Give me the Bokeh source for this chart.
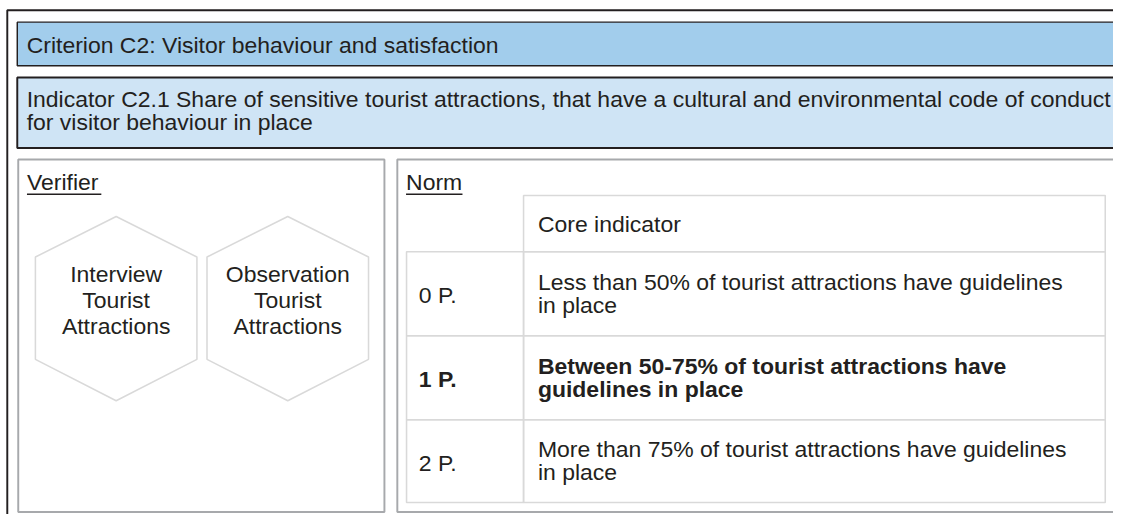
from bokeh.plotting import figure
from bokeh.models import Range1d
from bokeh.core.properties import value
from bokeh.embed import file_html
from bokeh.resources import INLINE

# ---- content ----
criterion = "Criterion C2: Visitor behaviour and satisfaction"
indicator_lines = [
    "Indicator C2.1 Share of sensitive tourist attractions, that have a cultural and environmental code of conduct",
    "for visitor behaviour in place",
]
verifier_title = "Verifier"
norm_title = "Norm"
verifiers = [
    ["Interview", "Tourist", "Attractions"],
    ["Observation", "Tourist", "Attractions"],
]
norm_header = "Core indicator"
points = ["0 P.", "1 P.", "2 P."]
norm_lines = [
    ["Less than 50% of tourist attractions have guidelines", "in place"],
    ["Between 50-75% of tourist attractions have", "guidelines in place"],
    ["More than 75% of tourist attractions have guidelines", "in place"],
]
bold_row = 1

# ---- canvas: keep 1148x530 aspect inside the window ----
W_REF, H_REF = 1148, 530
H_PX = 514
W_PX = round(W_REF * H_PX / H_REF)
S = H_PX / H_REF

FONT = value("Liberation Sans")
FS = f"{23.7 * S:.2f}px"
SHIFT = 8.5          # baseline correction for rendered text
TXT = "#231f20"
DARK = "#231f20"
BOXGRAY = "#a7a9ac"
LIGHT = "#d9d9d9"

p = figure(width=W_PX, height=H_PX, x_range=Range1d(0, W_REF), y_range=Range1d(H_REF, 0),
           output_backend="svg", toolbar_location=None,
           x_axis_location=None, y_axis_location=None, min_border=0)
p.grid.visible = False
p.outline_line_color = None
p.background_fill_color = "white"
p.border_fill_color = "white"


def txt(x, y, s, align="left", style="normal"):
    p.text(x=[x], y=[y - SHIFT], text=[s], text_font=FONT, text_font_size=FS,
           text_color=TXT, text_align=align, text_baseline="alphabetic",
           text_font_style=style)


# outer frame
p.line([7, 7, 1170], [560, 10, 10], line_color=DARK, line_width=2 * S)

# criterion / indicator bars
p.quad(left=[17.3], right=[1170], top=[22.3], bottom=[67.3],
       fill_color="#a2cdec", line_color=DARK, line_width=1.5 * S)
txt(27, 54, criterion)
p.quad(left=[17.3], right=[1170], top=[79.3], bottom=[152],
       fill_color="#cfe4f5", line_color=DARK, line_width=2 * S)
for i, s in enumerate(indicator_lines):
    txt(27, 110 + i * 23.5, s)

# verifier / norm boxes
p.quad(left=[18.3], right=[396], top=[164], bottom=[527.5],
       fill_color="white", line_color=BOXGRAY, line_width=2 * S)
p.quad(left=[409.3], right=[1170], top=[164], bottom=[527.5],
       fill_color="white", line_color=BOXGRAY, line_width=2 * S)

txt(27.3, 196, verifier_title)
p.line([27.3, 104], [199.8, 199.8], line_color=TXT, line_width=1.6 * S)
txt(418.3, 196, norm_title)
p.line([418.3, 476.5], [199.8, 199.8], line_color=TXT, line_width=1.6 * S)

# hexagons
hx, hys = [], []
for k, lines in enumerate(verifiers):
    cx = 119.3 + k * 177
    hw = 83.3
    hx.append([cx, cx + hw, cx + hw, cx, cx - hw, cx - hw])
    hys.append([222.7, 264.5, 370, 412.7, 370, 264.5])
    for j, s in enumerate(lines):
        txt(cx, 290 + j * 27.2, s, align="center")
p.patches(hx, hys, fill_color=None, line_color=LIGHT, line_width=1.6 * S)

# norm table
c0, c1, c2 = 418.8, 539.5, 1139.5
rows = [259, 345.6, 432.2, 517.6]
p.quad(left=[c1], right=[c2], top=[201], bottom=[rows[0]],
       fill_color=None, line_color=LIGHT, line_width=1.6 * S)
txt(554.3, 239, norm_header)
for r in range(len(points)):
    top, bot = rows[r], rows[r + 1]
    p.quad(left=[c0, c1], right=[c1, c2], top=[top, top], bottom=[bot, bot],
           fill_color=None, line_color=LIGHT, line_width=1.6 * S)
    cy = (top + bot) / 2
    style = "bold" if r == bold_row else "normal"
    txt(431.5, cy + 10.3, points[r], style=style)
    for j, s in enumerate(norm_lines[r]):
        txt(554.3, cy - 3.7 + j * 23.4, s, style=style)

open("out.html", "w").write(file_html(p, INLINE))
